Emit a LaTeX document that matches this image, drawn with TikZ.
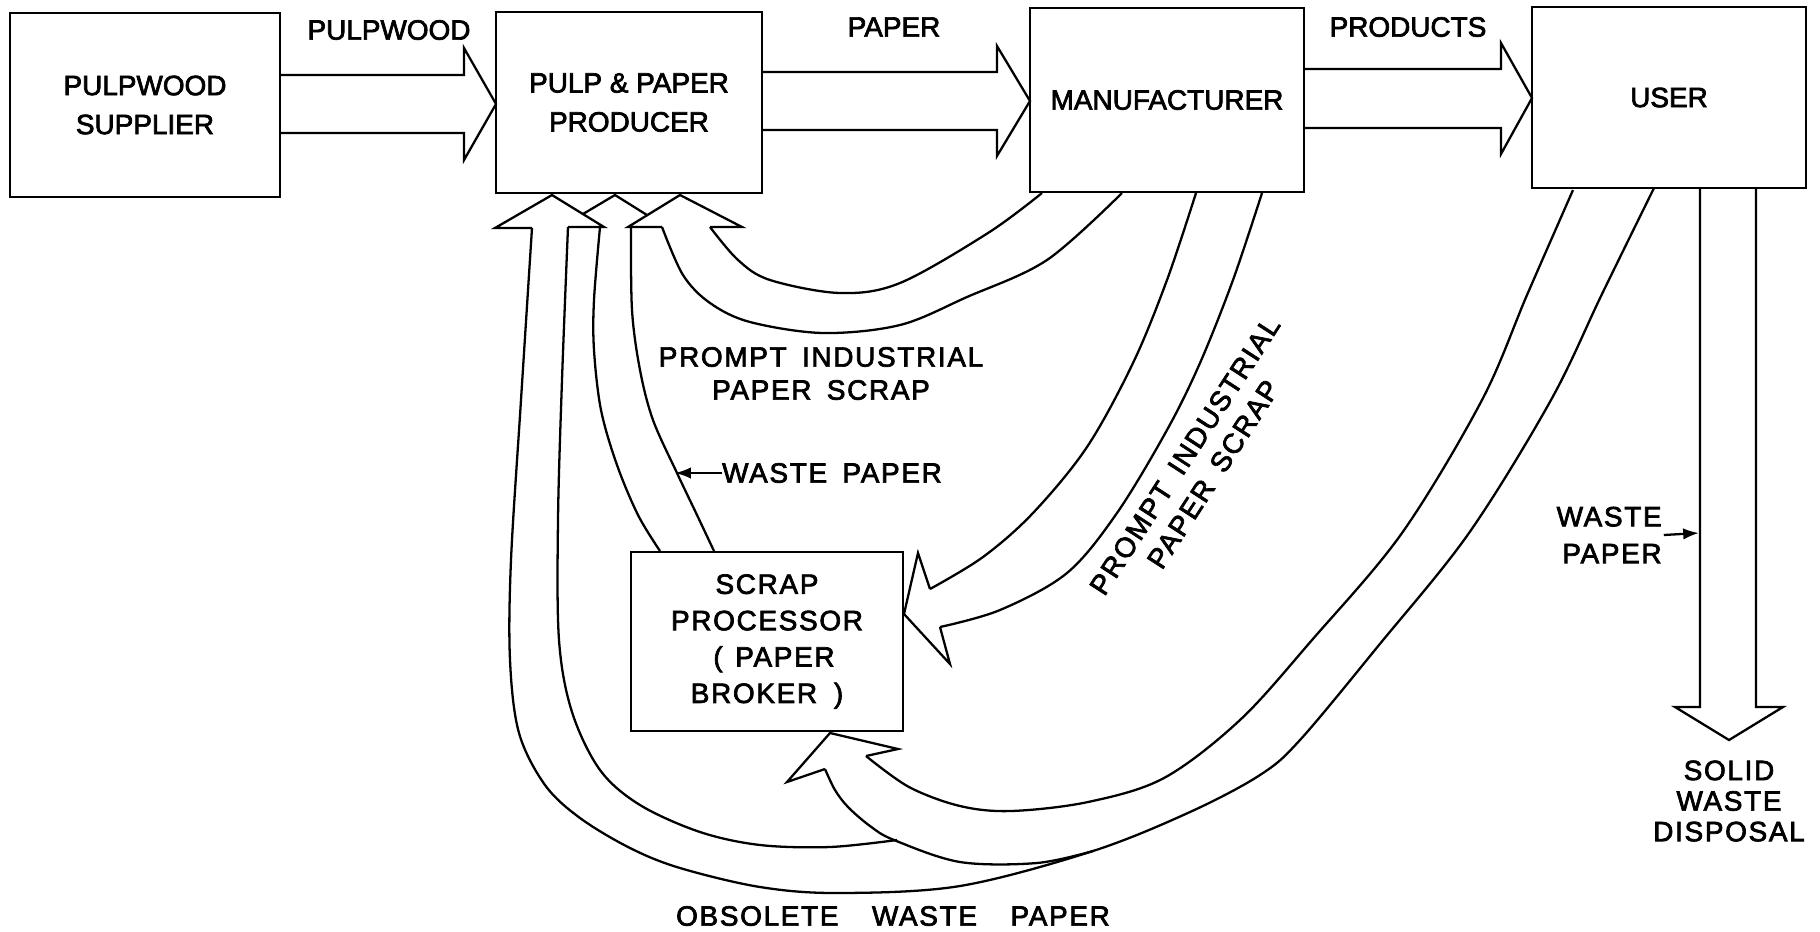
\documentclass[tikz,border=0pt]{standalone}
\usepackage{fontspec}
\setmainfont[FakeBold=2.5]{Liberation Sans}
\newfontfamily\lsfont[LetterSpace=6,FakeBold=2.5]{Liberation Sans}
\usetikzlibrary{arrows.meta}
\newcommand{\wg}{\hspace{0.55em}}
\begin{document}
\begin{tikzpicture}[x=0.02cm,y=-0.02cm,
  box/.style={draw, line width=1.5pt, inner sep=0pt, align=center, font=\fontsize{15.9}{22.2}\selectfont},
  lbl/.style={inner sep=0pt, align=center, font=\fontsize{15.9}{20}\selectfont},
  slbl/.style={inner sep=0pt, align=center, font=\lsfont\fontsize{15.9}{19}\selectfont},
  band/.style={line width=1.3pt, smooth, tension=0.55},
  head/.style={line width=1.3pt, line join=miter},
  ptr/.style={line width=1.3pt, -{Latex[length=9pt,width=6.5pt]}}]
\useasboundingbox (0,0) rectangle (1820,931);

% boxes
\node[box, minimum width=5.4cm, minimum height=3.68cm] (sup) at (145,105) {PULPWOOD\\SUPPLIER};
\node[box, minimum width=5.32cm, minimum height=3.62cm] (pulp) at (629,102.5) {PULP \& PAPER\\PRODUCER};
\node[box, minimum width=5.48cm, minimum height=3.68cm] (man) at (1167,100) {MANUFACTURER};
\node[box, minimum width=5.48cm, minimum height=3.62cm] (user) at (1669,97.5) {USER};
\node[box, minimum width=5.44cm, minimum height=3.58cm, font=\lsfont\fontsize{15.9}{20.7}\selectfont] (scrap) at (767,641.5) {SCRAP\\PROCESSOR\\\hspace*{0.5em}(\hspace{0.45em}PAPER\\BROKER\hspace{0.6em})};

% horizontal fat arrows
\draw[head] (280,75) -- (464,75) -- (464,48) -- (496,104) -- (464,160) -- (464,133) -- (280,133);
\draw[head] (762,72) -- (997,72) -- (997,46) -- (1030,101) -- (997,156) -- (997,130) -- (762,130);
\draw[head] (1304,69) -- (1501,69) -- (1501,43) -- (1532,98) -- (1501,154) -- (1501,128) -- (1304,128);

\node[lbl] (lpw) at (389,30) {PULPWOOD};
\node[lbl] (lpa) at (894,27) {PAPER};
\node[lbl] (lpr) at (1408,27) {PRODUCTS};

% arrowheads under the pulp & paper producer
\draw[head] (532,228) -- (495,228) -- (552,195) -- (604,227) -- (568,227);
\draw[head] (583,214) -- (615,195) -- (647,215);
\draw[head] (662,227) -- (628,227) -- (680,195) -- (742,227) -- (710,227);

% obsolete waste paper band (user -> producer)
\draw[band] plot coordinates {(532,228) (521,400) (511,560) (510,660) (519,733) (545,785) (580,818) (630,848) (680,868) (760,887) (838,893) (960,886) (1093,851) (1190,812) (1260,775) (1300,740) (1379,645) (1469,533) (1551,400) (1602,294) (1654,188)};
\draw[band] plot coordinates {(568,227) (562,380) (558,520) (559,640) (572,712) (600,770) (640,805) (700,832) (760,845) (830,847) (897,840)};

% obsolete waste paper band (user -> scrap processor)
\draw[head] (825,769) -- (787,782) -- (830,733) -- (898,749) -- (866,756);
\draw[band] plot coordinates {(866,756) (909,787) (960,806) (1011,811) (1088,802) (1164,778) (1240,720) (1312,640) (1402,533) (1482,400) (1527,295) (1573,190)};
\draw[band] plot coordinates {(825,769) (835,790) (848,807) (870,826) (894,840) (960,862) (1037,863) (1093,851)};

% waste paper band (scrap processor -> producer)
\draw[band] plot coordinates {(600,227) (594,300) (594,350) (601,410) (617,465) (638,515) (660,551)};
\draw[band] plot coordinates {(631,227) (632,310) (640,370) (653,420) (677,473) (697,515) (714,551)};

% prompt industrial paper scrap (manufacturer -> producer)
\draw[band] plot coordinates {(662,227) (683,275) (710,303) (750,322) (823,333) (900,325) (967,297) (1047,260) (1122,193)};
\draw[band] plot coordinates {(710,227) (738,260) (770,280) (840,293) (900,283) (988,233) (1042,193)};

% prompt industrial paper scrap (manufacturer -> scrap processor)
\draw[head] (930,589) -- (918,553) -- (904,614) -- (950,664) -- (940,627);
\draw[band] plot coordinates {(930,589) (983,557) (1033,513) (1087,447) (1133,363) (1167,280) (1196,193)};
\draw[band] plot coordinates {(940,627) (1000,610) (1067,573) (1117,513) (1167,430) (1200,363) (1233,280) (1262,193)};

% solid waste disposal arrow
\draw[head] (1700,188) -- (1700,707) -- (1675,707) -- (1729,740) -- (1783,707) -- (1756,707) -- (1756,188);

% labels
\node[slbl, font=\lsfont\fontsize{15.9}{18.8}\selectfont] (pis1) at (821,373.5) {PROMPT\wg INDUSTRIAL\\PAPER\wg SCRAP};
\node[slbl, font=\lsfont\fontsize{15.9}{19.3}\selectfont, rotate=57] (pis2) at (1199,465) {PROMPT\wg INDUSTRIAL\\PAPER\wg SCRAP};
\node[slbl] (wpm) at (832,473) {WASTE\wg PAPER};
\coordinate (wpmt) at (675,473);
\draw[ptr] (wpm.west) -- (wpmt);
\node[slbl, align=right, anchor=east, font=\lsfont\fontsize{15.9}{21}\selectfont] (wpr) at (1662,535) {WASTE\\PAPER};
\coordinate (wprt) at (1699,533);
\draw[ptr] ([xshift=1pt]wpr.east) -- (wprt);
\node[slbl, font=\lsfont\fontsize{15.9}{17.4}\selectfont] (swd) at (1729,801) {SOLID\\WASTE\\DISPOSAL};
\node[slbl] (owp) at (893,916) {OBSOLETE\hspace{1.2em}WASTE\hspace{1.2em}PAPER};
\end{tikzpicture}
\end{document}
